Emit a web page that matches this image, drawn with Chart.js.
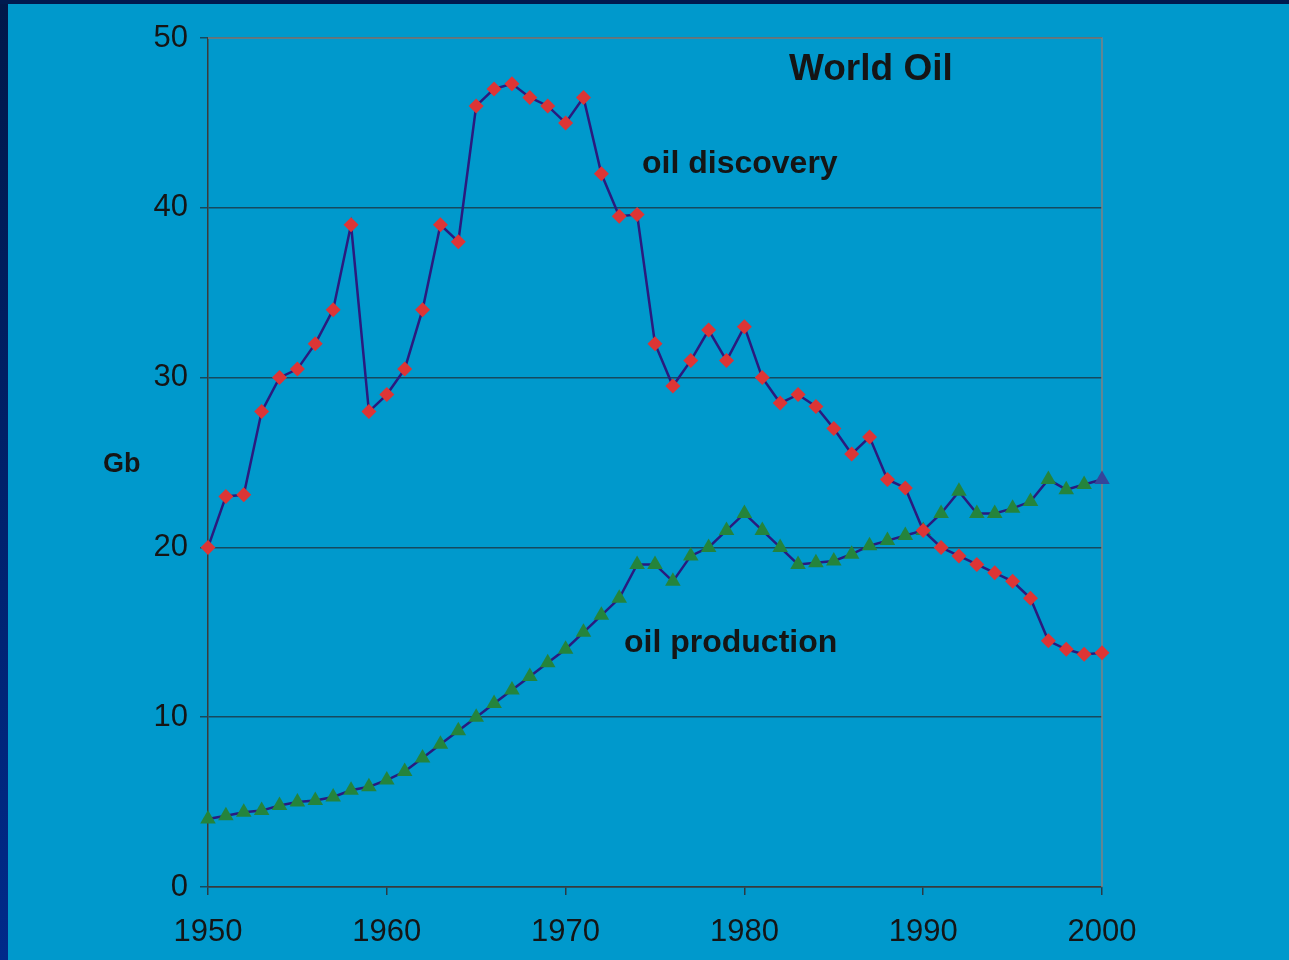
<!DOCTYPE html>
<html>
<head>
<meta charset="utf-8">
<title>World Oil</title>
<script src="https://cdn.jsdelivr.net/npm/chart.js@4"></script>
<style>
  html, body { margin: 0; padding: 0; background: #0099cc; }
  #wrap { width: 1289px; height: 960px; }
</style>
</head>
<body>
<div id="wrap"><canvas id="chart"></canvas></div>
<script>
// years 1950..2000
const years = [];
for (let y = 1950; y <= 2000; y++) years.push(y);

const discovery = [20, 23, 23.1, 28, 30, 30.5, 32, 34, 39, 28,
  29, 30.5, 34, 39, 38, 46, 47, 47.3, 46.5, 46,
  45, 46.5, 42, 39.5, 39.6, 32, 29.5, 31, 32.8, 31,
  33, 30, 28.5, 29, 28.3, 27, 25.5, 26.5, 24, 23.5,
  21, 20, 19.5, 19, 18.5, 18, 17, 14.5, 14, 13.7,
  13.8];

const production = [4, 4.2, 4.4, 4.5, 4.8, 5, 5.1, 5.3, 5.7, 5.9,
  6.3, 6.8, 7.6, 8.4, 9.2, 10, 10.8, 11.6, 12.4, 13.2,
  14, 15, 16, 17, 19, 19, 18, 19.5, 20, 21,
  22, 21, 20, 19, 19.1, 19.2, 19.6, 20.1, 20.4, 20.7,
  21, 22, 23.3, 22, 22, 22.3, 22.7, 24, 23.4, 23.7,
  24];

const xTicks = [1950, 1960, 1970, 1980, 1990, 2000];
const yTicks = [0, 10, 20, 30, 40, 50];

const pts = arr => arr.map((v, i) => ({ x: years[i], y: v }));

const font = '"Liberation Sans", Arial, sans-serif';

const frame = {
  id: 'frame',
  beforeDraw(chart) {
    const c = chart.ctx;
    c.save();
    c.fillStyle = '#0099cc';
    c.fillRect(0, 0, chart.width, chart.height);
    const g = c.createLinearGradient(0, 0, 0, chart.height);
    g.addColorStop(0, '#00184a');
    g.addColorStop(1, '#002a8a');
    c.fillStyle = g;
    c.fillRect(0, 0, 8, chart.height);
    c.fillStyle = '#001a50';
    c.fillRect(0, 0, chart.width, 4);
    c.restore();
  },
  beforeDatasetsDraw(chart) {
    const c = chart.ctx, a = chart.chartArea;
    c.save();
    c.strokeStyle = '#808080';
    c.lineWidth = 1.5;
    c.beginPath();
    c.moveTo(a.left, a.top);
    c.lineTo(a.right, a.top);
    c.lineTo(a.right, a.bottom);
    c.stroke();
    c.restore();
  },
  afterDraw(chart) {
    const c = chart.ctx;
    c.save();
    c.fillStyle = '#151515';
    c.textBaseline = 'middle';
    c.textAlign = 'left';
    c.font = 'bold 37px ' + font;
    c.fillText('World Oil', 789, 70);
    c.font = 'bold 32px ' + font;
    c.fillText('oil discovery', 642, 164);
    c.fillText('oil production', 624, 643);
    c.font = 'bold 27px ' + font;
    c.fillText('Gb', 103, 465);
    c.restore();
  }
};

new Chart(document.getElementById('chart'), {
  type: 'line',
  data: {
    datasets: [{
      label: 'oil discovery',
      data: pts(discovery),
      borderColor: '#2a1a7e',
      borderWidth: 2.5,
      pointStyle: 'rectRot',
      pointRadius: 7.5,
      pointBackgroundColor: '#dd3535',
      pointBorderColor: '#dd3535',
      pointBorderWidth: 0,
      tension: 0,
      clip: false
    }, {
      label: 'oil production',
      data: pts(production),
      borderColor: '#2a1a7e',
      borderWidth: 2.5,
      pointStyle: 'triangle',
      pointRadius: 9,
      pointBackgroundColor: ctx => ctx.dataIndex === production.length - 1 ? '#35459a' : '#24843c',
      pointBorderColor: ctx => ctx.dataIndex === production.length - 1 ? '#35459a' : '#24843c',
      pointBorderWidth: 0,
      tension: 0,
      clip: false
    }]
  },
  options: {
    responsive: true,
    maintainAspectRatio: false,
    animation: false,
    layout: { padding: { top: 38, right: 187, left: 0, bottom: 0 } },
    scales: {
      x: {
        type: 'linear',
        min: 1950,
        max: 2000,
        afterBuildTicks: s => { s.ticks = xTicks.map(v => ({ value: v })); },
        afterFit: s => { s.height = 73; },
        ticks: {
          color: '#151515', font: { family: font, size: 31 }, padding: 19, maxRotation: 0,
          callback: v => String(v)
        },
        grid: { drawOnChartArea: false, drawTicks: true, tickLength: 8, color: '#2a3a44', lineWidth: 1.5 },
        border: { color: '#3a3a3a', width: 1.5 }
      },
      y: {
        min: 0,
        max: 50,
        afterBuildTicks: s => { s.ticks = yTicks.map(v => ({ value: v })); },
        afterFit: s => { s.width = 208; },
        ticks: { color: '#151515', font: { family: font, size: 31 }, padding: 12 },
        grid: { color: '#16495e', lineWidth: 1.5, tickLength: 8 },
        border: { color: '#3a3a3a', width: 1.5 }
      }
    },
    plugins: {
      legend: { display: false },
      tooltip: { enabled: false }
    }
  },
  plugins: [frame]
});
</script>
</body>
</html>
